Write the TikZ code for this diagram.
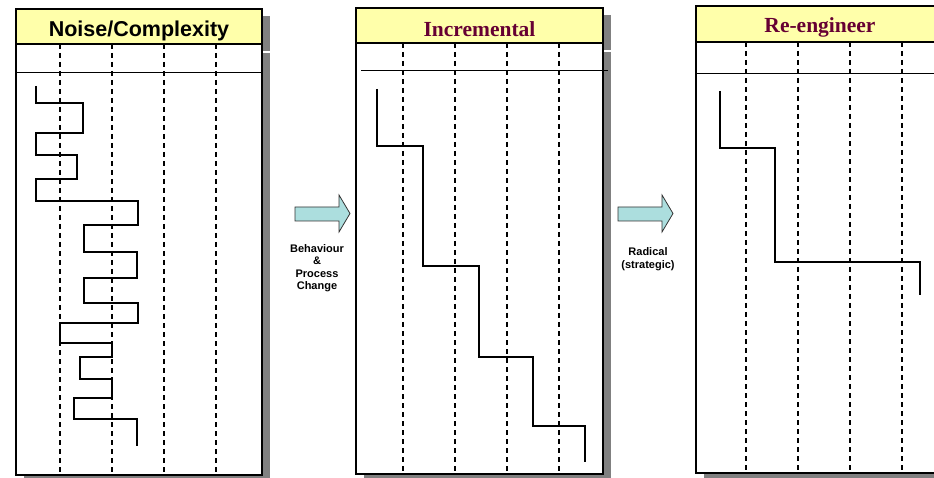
\documentclass[tikz,border=0pt]{standalone}
\usepackage{fontspec}
\setmainfont{Liberation Serif}
\setsansfont{Liberation Sans}
\definecolor{hdryellow}{RGB}{255,255,170}
\definecolor{ttlpurple}{RGB}{102,0,51}
\definecolor{arrowcyan}{RGB}{172,222,222}
\definecolor{shadowgray}{RGB}{128,128,128}

\begin{document}
\begin{tikzpicture}[x=1pt, y=-1pt,
        frame/.style={draw, line width=1.3pt},
        gridline/.style={dash pattern=on 5pt off 4pt, line width=1.4pt},
        trace/.style={line width=1.1pt},
        blockarrow/.style={draw=black!80, line width=0.8pt, fill=arrowcyan},
        sidelabel/.style={align=center, font=\sffamily\bfseries\fontsize{11}{12.5}\selectfont}]
                \useasboundingbox (0,0) rectangle (934,478);
                \clip (0,0) rectangle (934,478);
                % panels: left/top/header/bottom/right/first grid x/rule y/rule from/rule to
                \foreach \L/\T/\H/\B/\R/\G/\Y/\Ra/\Rb in {16/9/44/475/262/60/73/16/262,
                                                          356/8/43/474/603/403/71/361/608,
                                                          696/6/42/473/944/746/74/696/944} {
                    \fill[shadowgray] (\L+8,\T+7) rectangle (\R+8,\H+7);
                    \fill[shadowgray] (\L+8,\H+9) rectangle (\R+8,\B+7);
                    \draw[frame, fill=white] (\L,\H) rectangle (\R,\B);
                    \draw[frame, fill=hdryellow] (\L,\T) rectangle (\R,\H);
                    \foreach \i in {0,...,3}
                        \draw[gridline] (\G+\i*52,\H) -- (\G+\i*52,\B);
                    \draw[line width=1pt] (\Ra,\Y) -- (\Rb,\Y);
                }
                \node (noise) at (139,31) {\sffamily\bfseries\fontsize{21.5}{24}\selectfont Noise/Complexity};
                \node[text=ttlpurple] (incr) at (479.5,29.5) {\bfseries\fontsize{21.5}{24}\selectfont Incremental};
                \node[text=ttlpurple] (reeng) at (820,27.5) {\bfseries\fontsize{21.5}{24}\selectfont Re-engineer};
                % step traces
                \draw[trace] (36,86) -- (36,103) -- (83,103) -- (83,133) -- (36,133) -- (36,155) -- (77,155)
                    -- (77,179) -- (36,179) -- (36,201) -- (138,201) -- (138,225) -- (84,225) -- (84,252)
                    -- (137,252) -- (137,278) -- (84,278) -- (84,303) -- (138,303) -- (138,323) -- (60,323)
                    -- (60,343) -- (112,343) -- (112,357) -- (80,357) -- (80,379) -- (112,379) -- (112,398)
                    -- (74,398) -- (74,419) -- (137,419) -- (137,446);
                \draw[trace] (377,89) -- (377,146) -- (423,146) -- (423,266) -- (479,266) -- (479,357)
                    -- (533,357) -- (533,426) -- (585,426) -- (585,462);
                \draw[trace] (720,91) -- (720,148) -- (775,148) -- (775,262) -- (920,262) -- (920,295);
                % arrows between panels
                \draw[blockarrow] (295,207) -- (339,207) -- (339,195) -- (350,213.5) -- (339,232) -- (339,221) -- (295,221) -- cycle;
                \draw[blockarrow] (618,207) -- (662,207) -- (662,195) -- (673,213.5) -- (662,232) -- (662,221) -- (618,221) -- cycle;
                \node[sidelabel] (behav) at (317,268) {Behaviour\\\&\\Process\\Change};
                \node[sidelabel] (radical) at (648,259) {Radical\\(strategic)};
            \end{tikzpicture}
\end{document}
